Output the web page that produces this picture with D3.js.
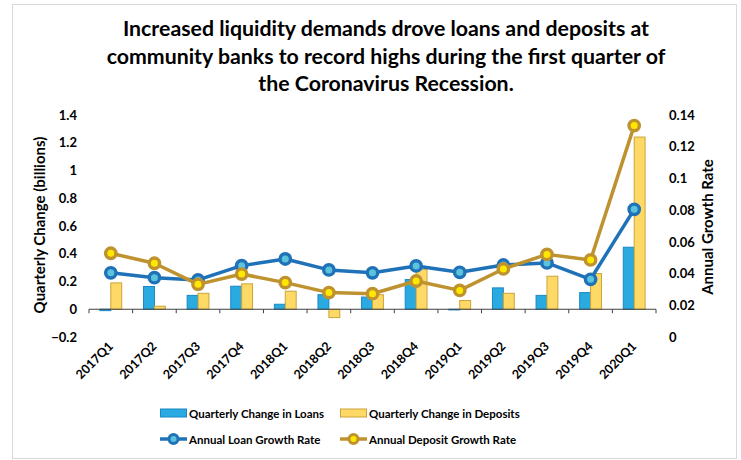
<!DOCTYPE html>
<html>
<head>
<meta charset="utf-8">
<script src="https://cdn.jsdelivr.net/npm/d3@7"></script>
<style>
  body { margin: 0; background: #fff; }
  svg { display: block; font-family: Lato, "Open Sans", sans-serif; }
</style>
</head>
<body>
<div id="chart"></div>
<script>
const quarters = ["2017Q1", "2017Q2", "2017Q3", "2017Q4", "2018Q1", "2018Q2", "2018Q3",
    "2018Q4", "2019Q1", "2019Q2", "2019Q3", "2019Q4", "2020Q1"];
// quarterly change, billions (left axis)
const loanChange = [-0.01, 0.164, 0.10, 0.166, 0.036, 0.105, 0.088, 0.214, -0.005, 0.154, 0.10, 0.12, 0.447];
const depositChange = [0.19, 0.022, 0.115, 0.183, 0.13, -0.06, 0.105, 0.288, 0.063, 0.115, 0.238, 0.257, 1.241];
// annual growth rate (right axis)
const loanGrowth = [0.0405, 0.0374, 0.036, 0.045, 0.0492, 0.0423, 0.0405, 0.0448, 0.0408, 0.0454, 0.0467, 0.0364, 0.0805];
const depositGrowth = [0.0528, 0.0465, 0.0332, 0.0397, 0.0343, 0.028, 0.0273, 0.0353, 0.0294, 0.0429, 0.0521, 0.0486, 0.1333];

const leftTicks = [-0.2, 0, 0.2, 0.4, 0.6, 0.8, 1, 1.2, 1.4];
const rightTicks = [0, 0.02, 0.04, 0.06, 0.08, 0.1, 0.12, 0.14];
const titleLines = ["Increased liquidity demands drove loans and deposits at",
    "community banks to record highs during the first quarter of",
    "the Coronavirus Recession."];

const colors = {
    loanBar: "#29abe2", loanBarEdge: "#1b87c4",
    depBar: "#ffd966", depBarEdge: "#c9a43a",
    loanLine: "#1f72b8", loanDot: "#5bc4dc",
    depLine: "#bf9230", depDot: "#ffe800"
};

const width = 741, height = 460;
const plot = { left: 89, right: 656, top: 115, bottom: 337 };

const svg = d3.select("#chart").append("svg")
    .attr("width", width)
    .attr("height", height);

// outer frame
svg.append("rect")
    .attr("x", 12.5).attr("y", 4.5)
    .attr("width", 724).attr("height", 454)
    .attr("fill", "#fff")
    .attr("stroke", "#d9d9d9");

// title
svg.append("text")
    .attr("text-anchor", "middle")
    .style("font-size", "21.3px")
    .style("font-weight", "bold")
    .attr("fill", "#000")
    .selectAll("tspan")
    .data(titleLines)
    .join("tspan")
    .attr("x", 386)
    .attr("y", (d, i) => 36 + i * 27.5)
    .text(d => d);

const x = d3.scaleBand().domain(quarters).range([plot.left, plot.right]).padding(0);
const yLeft = d3.scaleLinear().domain([-0.2, 1.4]).range([plot.bottom, plot.top]);
const yRight = d3.scaleLinear().domain([0, 0.14]).range([plot.bottom, plot.top]);
const bw = x.bandwidth();

// left axis labels
svg.append("g")
    .attr("transform", `translate(${plot.left - 8},0)`)
    .call(d3.axisLeft(yLeft).tickValues(leftTicks).tickSize(0).tickPadding(4).tickFormat(d3.format("")))
    .call(g => g.select(".domain").remove())
    .selectAll("text")
    .style("font-family", "Lato, sans-serif")
    .style("font-size", "13px")
    .style("font-weight", "bold")
    .attr("fill", "#000");

// right axis labels
svg.append("g")
    .attr("transform", `translate(${plot.right + 9},0)`)
    .call(d3.axisRight(yRight).tickValues(rightTicks).tickSize(0).tickPadding(4).tickFormat(d3.format("")))
    .call(g => g.select(".domain").remove())
    .selectAll("text")
    .style("font-family", "Lato, sans-serif")
    .style("font-size", "13px")
    .style("font-weight", "bold")
    .attr("fill", "#000");

// bars
const barData = quarters.map((q, i) => ({ q, loan: loanChange[i], dep: depositChange[i] }));
const bars = svg.append("g");
bars.selectAll(".loan-bar")
    .data(barData)
    .join("rect")
    .attr("class", "loan-bar")
    .attr("x", d => x(d.q) + bw * 0.25)
    .attr("width", bw * 0.25)
    .attr("y", d => yLeft(Math.max(0, d.loan)))
    .attr("height", d => Math.abs(yLeft(d.loan) - yLeft(0)))
    .attr("fill", colors.loanBar)
    .attr("stroke", colors.loanBarEdge)
    .attr("stroke-width", 1);
bars.selectAll(".dep-bar")
    .data(barData)
    .join("rect")
    .attr("class", "dep-bar")
    .attr("x", d => x(d.q) + bw * 0.5)
    .attr("width", bw * 0.25)
    .attr("y", d => yLeft(Math.max(0, d.dep)))
    .attr("height", d => Math.abs(yLeft(d.dep) - yLeft(0)))
    .attr("fill", colors.depBar)
    .attr("stroke", colors.depBarEdge)
    .attr("stroke-width", 1);

// category axis at zero
const xAxis = svg.append("g")
    .attr("transform", `translate(0,${yLeft(0)})`);
xAxis.append("line")
    .attr("x1", plot.left).attr("x2", plot.right)
    .attr("stroke", "#404040").attr("stroke-width", 1.2);
xAxis.selectAll(".tick-mark")
    .data(d3.range(quarters.length + 1))
    .join("line")
    .attr("class", "tick-mark")
    .attr("x1", i => plot.left + i * bw)
    .attr("x2", i => plot.left + i * bw)
    .attr("y1", 0).attr("y2", 4)
    .attr("stroke", "#404040");

svg.append("g")
    .selectAll("text")
    .data(quarters)
    .join("text")
    .attr("transform", d => `translate(${x(d) + bw / 2 + 3},${plot.bottom + 10}) rotate(-45)`)
    .attr("text-anchor", "end")
    .style("font-size", "12.5px")
    .style("font-weight", "bold")
    .text(d => d);

// growth lines
function drawLine(values, lineColor, dotColor) {
    const pts = quarters.map((q, i) => [x(q) + bw / 2, yRight(values[i])]);
    svg.append("path")
        .datum(pts)
        .attr("fill", "none")
        .attr("stroke", lineColor)
        .attr("stroke-width", 3.5)
        .attr("stroke-linejoin", "round")
        .attr("d", d3.line());
    svg.append("g")
        .selectAll("circle")
        .data(pts)
        .join("circle")
        .attr("cx", d => d[0])
        .attr("cy", d => d[1])
        .attr("r", 5.2)
        .attr("fill", dotColor)
        .attr("stroke", lineColor)
        .attr("stroke-width", 3.4);
}
drawLine(loanGrowth, colors.loanLine, colors.loanDot);
drawLine(depositGrowth, colors.depLine, colors.depDot);

// axis titles
svg.append("text")
    .attr("transform", "translate(45,225) rotate(-90)")
    .attr("text-anchor", "middle")
    .style("font-size", "15px")
    .style("font-weight", "bold")
    .text("Quarterly Change (billions)");
svg.append("text")
    .attr("transform", "translate(713,227) rotate(-90)")
    .attr("text-anchor", "middle")
    .style("font-size", "15px")
    .style("font-weight", "bold")
    .text("Annual Growth Rate");

// legend
const legend = svg.append("g").style("font-size", "11.5px");
const items = [
    { label: "Quarterly Change in Loans", type: "bar", fill: colors.loanBar, edge: colors.loanBarEdge, x: 160, y: 413 },
    { label: "Quarterly Change in Deposits", type: "bar", fill: colors.depBar, edge: colors.depBarEdge, x: 340, y: 413 },
    { label: "Annual Loan Growth Rate", type: "line", fill: colors.loanDot, edge: colors.loanLine, x: 160, y: 439 },
    { label: "Annual Deposit Growth Rate", type: "line", fill: colors.depDot, edge: colors.depLine, x: 340, y: 439 }
];
items.forEach(it => {
    const g = legend.append("g").attr("transform", `translate(${it.x},${it.y})`);
    if (it.type === "bar") {
        g.append("rect")
            .attr("x", 0.5).attr("y", -4)
            .attr("width", 26).attr("height", 8)
            .attr("fill", it.fill).attr("stroke", it.edge);
    } else {
        g.append("line")
            .attr("x1", 0).attr("x2", 27)
            .attr("stroke", it.edge).attr("stroke-width", 3.5);
        g.append("circle")
            .attr("cx", 13.5).attr("r", 4.5)
            .attr("fill", it.fill)
            .attr("stroke", it.edge).attr("stroke-width", 3);
    }
    g.append("text")
        .attr("x", 29).attr("y", 4.5)
        .style("font-weight", "bold")
        .text(it.label);
});
</script>
</body>
</html>
